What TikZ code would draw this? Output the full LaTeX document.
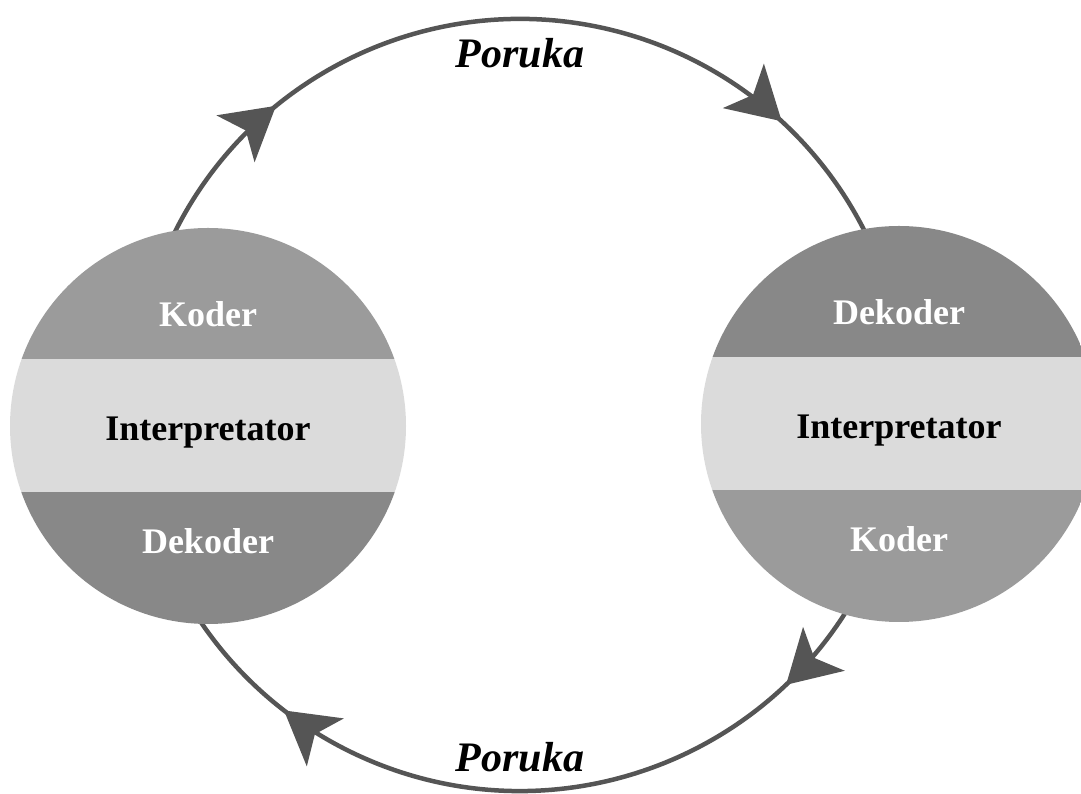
\documentclass[tikz,border=0pt]{standalone}
\usepackage{fontspec}
\setmainfont{Liberation Serif}
\usetikzlibrary{arrows.meta, decorations.markings}

\definecolor{ringgray}{HTML}{555555}
\definecolor{kodergray}{HTML}{9B9B9B}
\definecolor{dekodergray}{HTML}{888888}
\definecolor{midgray}{HTML}{DBDBDB}

\tikzset{
  msg/.style={draw=ringgray, line width=4.5pt},
  tip at/.style={postaction={decorate, decoration={markings,
      mark=at position #1 with {\arrow[ringgray]{Stealth[length=52pt,width=60pt,inset=13pt]}}}}},
  station/.style={circle, inner sep=0pt, minimum size=396pt},
  inlabel/.style={anchor=base, font=\fontsize{36}{40}\selectfont\bfseries},
  msglabel/.style={anchor=base, font=\fontsize{42}{46}\selectfont\bfseries\itshape}
}

\begin{document}
\begin{tikzpicture}[x=1pt,y=1pt]
  % --- 1. canvas ---
  \clip (0,0) rectangle (1081,794);
  \def\rRing{386}
  \def\rBall{198}

  % --- 2. ring centre and arc ends ---
  \coordinate (ring) at (520,389);
  \coordinate (topL) at ([shift={(160:\rRing)}]ring);
  \coordinate (botR) at ([shift={(-25:\rRing)}]ring);

  % --- 3. message arcs ---
  \draw[msg, tip at=0.22, tip at=0.805] (topL) arc[start angle=160, end angle=20, radius=\rRing];
  \draw[msg, tip at=0.165, tip at=0.79] (botR) arc[start angle=-25, end angle=-155, radius=\rRing];

  % --- 4. the two stations ---
  \node[station] (left) at (208,368) {};
  \node[station] (right) at (899,370) {};
  \begin{scope}
    \clip (left.center) circle (\rBall);
    \fill[kodergray] ([shift={(-200,67)}]left.center) rectangle ([shift={(200,200)}]left.center);
    \fill[midgray] ([shift={(-200,-66)}]left.center) rectangle ([shift={(200,67)}]left.center);
    \fill[dekodergray] ([shift={(-200,-200)}]left.center) rectangle ([shift={(200,-66)}]left.center);
  \end{scope}
  \begin{scope}
    \clip (right.center) circle (\rBall);
    \fill[dekodergray] ([shift={(-200,67)}]right.center) rectangle ([shift={(200,200)}]right.center);
    \fill[midgray] ([shift={(-200,-66)}]right.center) rectangle ([shift={(200,67)}]right.center);
    \fill[kodergray] ([shift={(-200,-200)}]right.center) rectangle ([shift={(200,-66)}]right.center);
  \end{scope}

  % --- 5. labels ---
  \node[inlabel, text=white] (lKoder) at ([yshift=99pt]left.center) {Koder};
  \node[inlabel] (lInter) at ([yshift=-15pt]left.center) {Interpretator};
  \node[inlabel, text=white] (lDekoder) at ([yshift=-128pt]left.center) {Dekoder};

  \node[inlabel, text=white] (rDekoder) at ([yshift=99pt]right.center) {Dekoder};
  \node[inlabel] (rInter) at ([yshift=-15pt]right.center) {Interpretator};
  \node[inlabel, text=white] (rKoder) at ([yshift=-128pt]right.center) {Koder};

  \node[msglabel] (pTop) at ([yshift=337pt]ring) {Poruka};
  \node[msglabel] (pBot) at ([yshift=-367pt]ring) {Poruka};
\end{tikzpicture}
\end{document}
